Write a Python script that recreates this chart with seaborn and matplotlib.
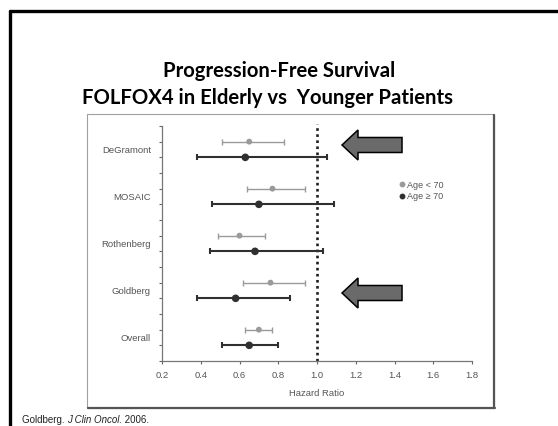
import numpy as np
import pandas as pd
import matplotlib
matplotlib.use("Agg")
import matplotlib.pyplot as plt
from matplotlib.patches import Rectangle, Polygon
from matplotlib.lines import Line2D
import seaborn as sns

# ---- data: hazard ratios with 95% CI, progression-free survival ----
studies = ["DeGramont", "MOSAIC", "Rothenberg", "Goldberg", "Overall"]
groups = ["Age < 70", "Age \u2265 70"]
young_hr = [0.65, 0.77, 0.60, 0.76, 0.70]
young_lo = [0.51, 0.64, 0.49, 0.62, 0.63]
young_hi = [0.83, 0.94, 0.73, 0.94, 0.77]
old_hr = [0.63, 0.70, 0.68, 0.58, 0.65]
old_lo = [0.38, 0.46, 0.45, 0.38, 0.51]
old_hi = [1.05, 1.09, 1.03, 0.86, 0.80]
x_ticks = [0.2, 0.4, 0.6, 0.8, 1.0, 1.2, 1.4, 1.6, 1.8]

rows = []
for i, s in enumerate(studies):
    rows.append(dict(study=s, group=groups[0], hr=young_hr[i], lo=young_lo[i],
                     hi=young_hi[i], pos=3 * i + 1))
    rows.append(dict(study=s, group=groups[1], hr=old_hr[i], lo=old_lo[i],
                     hi=old_hi[i], pos=3 * i + 2))
df = pd.DataFrame(rows)

sns.set_theme(style="white")
plt.rcParams["font.family"] = ["Liberation Sans", "DejaVu Sans"]

W, H = 558, 426
fig = plt.figure(figsize=(W / 100, H / 100), dpi=100)
fig.patch.set_facecolor("white")


def fx(x):
    return x / W


def fy(y):
    return 1 - y / H


# slide frame (top and left edges visible)
fig.add_artist(Line2D([fx(9.5), 1.0], [fy(10.5), fy(10.5)], color="black", lw=2.4))
fig.add_artist(Line2D([fx(9.5), fx(9.5)], [fy(10.5), 0.0], color="black", lw=2.4))

# slide title
title_font = dict(family=["Lato", "DejaVu Sans"], weight="bold", color="black")
fig.text(fx(279), fy(71), "Progression-Free Survival", ha="center", va="center",
         fontsize=14.6, **title_font)
fig.text(fx(267), fy(98), "FOLFOX4 in Elderly vs  Younger Patients", ha="center",
         va="center", fontsize=14.6, **title_font)

# figure panel with a soft shadow border
fig.add_artist(Rectangle((fx(87), fy(408)), (494 - 87) / W, (408 - 114) / H,
                         transform=fig.transFigure, facecolor="white",
                         edgecolor="#a0a0a0", lw=0.8, zorder=-1))
fig.add_artist(Line2D([fx(494), fx(494)], [fy(115), fy(408)], color="#555555",
                      lw=1.6, zorder=-1))
fig.add_artist(Line2D([fx(88), fx(495)], [fy(408), fy(408)], color="#555555",
                      lw=1.6, zorder=-1))

ax = fig.add_axes([fx(162), fy(361), (472 - 162) / W, (361 - 126) / H])
ax.set_facecolor("none")
ax.set_zorder(2)

palette = {groups[0]: "#9a9a9a", groups[1]: "#303030"}
line_w = {groups[0]: 1.0, groups[1]: 1.5}

# confidence intervals
for g in groups:
    sub = df[df.group == g]
    ax.errorbar(sub.hr, sub.pos, xerr=[sub.hr - sub.lo, sub.hi - sub.hr], fmt="none",
                ecolor=palette[g], elinewidth=line_w[g], capsize=2.2,
                capthick=line_w[g], zorder=2)

# point estimates
sns.scatterplot(data=df, x="hr", y="pos", hue="group", palette=palette,
                size="group", sizes={groups[0]: 18, groups[1]: 30},
                edgecolor="none", legend=False, ax=ax, zorder=3)

# line of no effect
ax.axvline(1.0, color="#1e1e1e", lw=1.9, linestyle=(0, (1, 1.3)), zorder=1,
           ymin=0, ymax=1.01, clip_on=False)

ax.set_xlim(0.2, 1.8)
ax.set_ylim(15, 0)
ax.set_xticks(x_ticks)
ax.set_xticklabels([f"{t:.1f}" for t in x_ticks])
ax.set_yticks(range(16))
ax.set_yticklabels([])
ax.set_yticks([3 * i + 1.5 for i in range(len(studies))], minor=True)
ax.set_yticklabels(studies, minor=True)
ax.tick_params(axis="y", which="minor", length=0, pad=8)
ax.tick_params(axis="y", which="major", length=2.5, width=0.8, color="#666666",
               direction="out", left=True)
ax.tick_params(axis="x", length=2.5, width=0.8, color="#666666", direction="out",
               bottom=True, pad=5)
for lab in ax.get_xticklabels() + ax.get_yticklabels(minor=True):
    lab.set_fontsize(6.8)
    lab.set_color("#555555")
ax.set_xlabel("Hazard Ratio", fontsize=6.8, color="#555555", labelpad=6)
ax.set_ylabel("")
for side in ["top", "right"]:
    ax.spines[side].set_visible(False)
for side in ["left", "bottom"]:
    ax.spines[side].set_color("#777777")
    ax.spines[side].set_linewidth(0.9)
ax.grid(False)

handles = [Line2D([], [], marker="o", linestyle="none", markersize=3.2,
                  color=palette[g], label=g) for g in groups]
fig.legend(handles=handles, loc="upper left", bbox_to_anchor=(fx(393), fy(176)),
           frameon=False, fontsize=6.5, handletextpad=0.1, labelspacing=0.3,
           borderpad=0, handlelength=1.0, labelcolor="#555555")

# call-out arrows
def block_arrow(tip_x, cy, tail_x, head_len=16, head_half=15, shaft_half=7.5):
    pts = [(tip_x, cy), (tip_x + head_len, cy - head_half),
           (tip_x + head_len, cy - shaft_half), (tail_x, cy - shaft_half),
           (tail_x, cy + shaft_half), (tip_x + head_len, cy + shaft_half),
           (tip_x + head_len, cy + head_half)]
    fig.add_artist(Polygon([(fx(px), fy(py)) for px, py in pts], closed=True,
                           transform=fig.transFigure, facecolor="#6a6a6a",
                           edgecolor="black", lw=1.1, zorder=5))


block_arrow(342, 145, 402)
block_arrow(342, 293, 402)

# citation
fig.canvas.draw()
r = fig.canvas.get_renderer()
cite_y = fy(415)
t1 = fig.text(fx(22), cite_y, "Goldberg. ", fontsize=7.0, va="top", color="#222222")
x = fx(22) + t1.get_window_extent(r).width / W
t2 = fig.text(x, cite_y, "J Clin Oncol.", fontsize=7.0, va="top", style="italic",
              color="#222222")
x += t2.get_window_extent(r).width / W
fig.text(x, cite_y, " 2006.", fontsize=7.0, va="top", color="#222222")

fig.savefig("out.png", dpi=100, facecolor="white")
